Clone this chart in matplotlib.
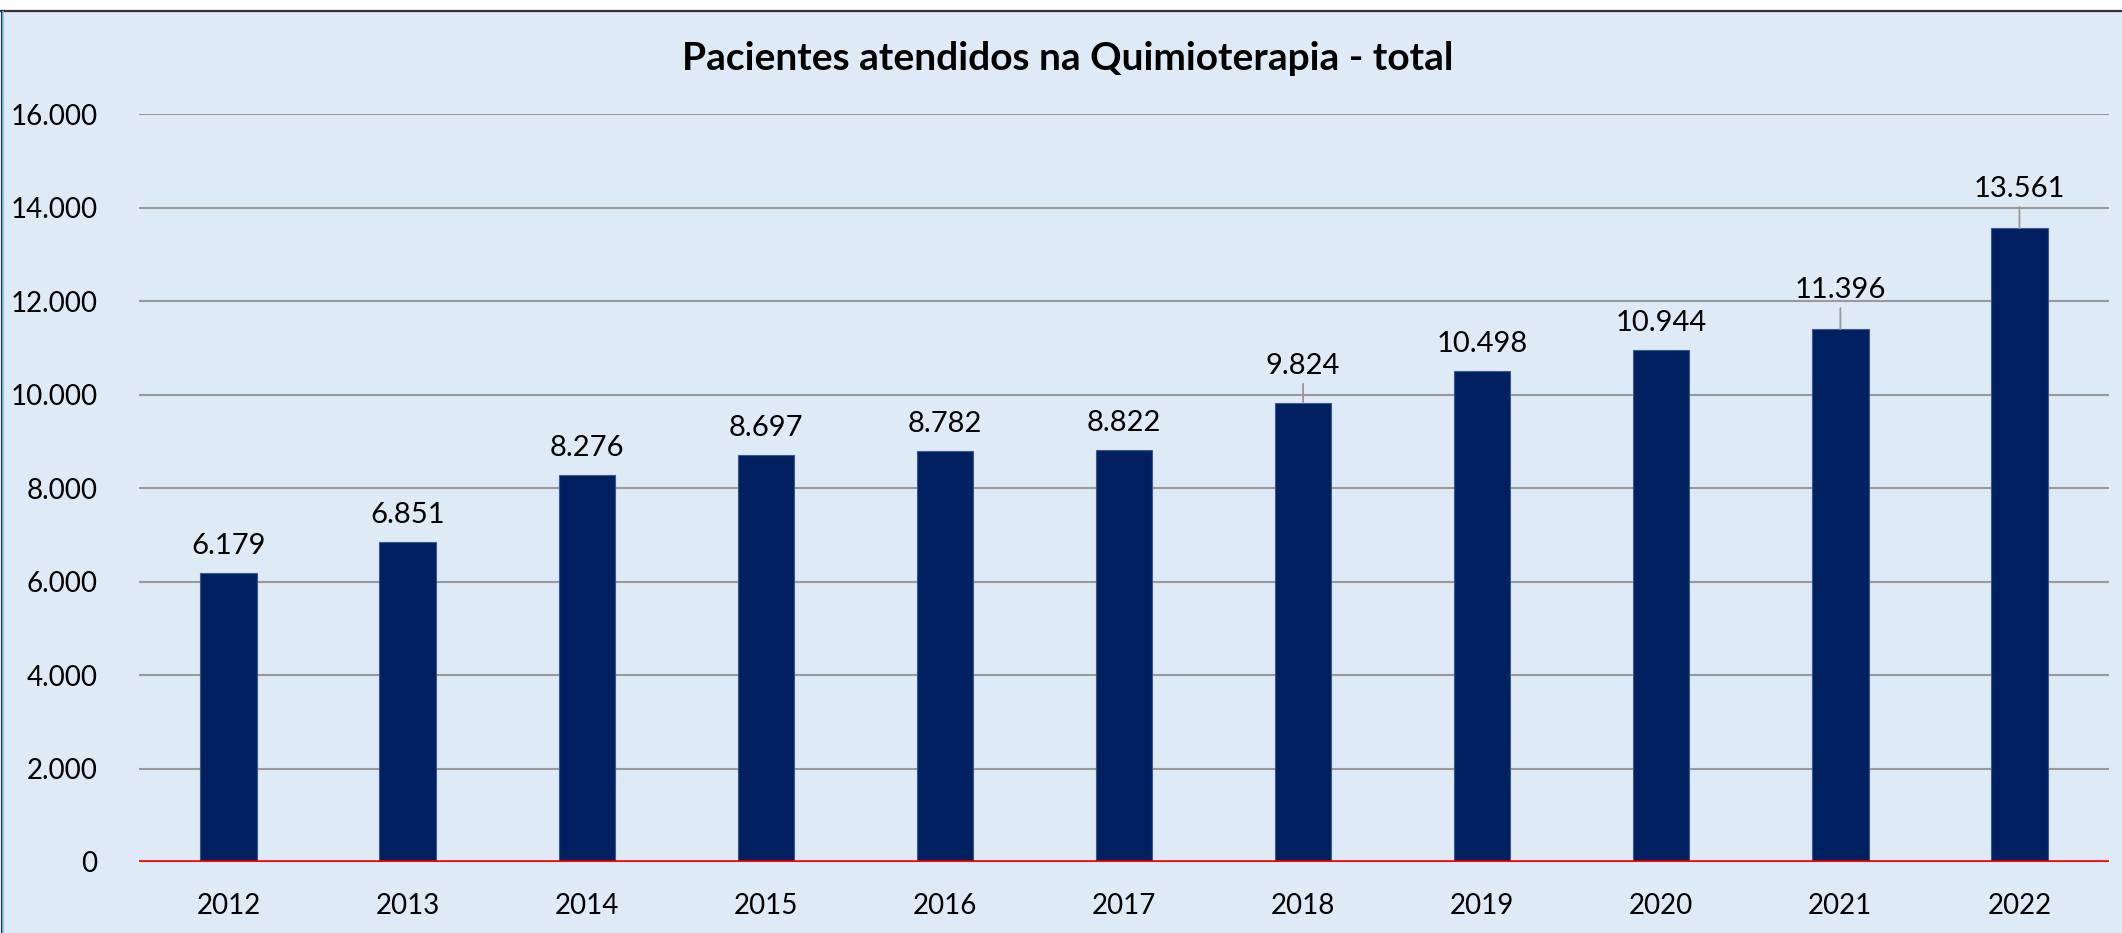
import numpy as np
import matplotlib.pyplot as plt
from matplotlib.patches import Rectangle

years = ['2012', '2013', '2014', '2015', '2016', '2017', '2018', '2019', '2020', '2021', '2022']
patients = [6179, 6851, 8276, 8697, 8782, 8822, 9824, 10498, 10944, 11396, 13561]
# labels that Excel pushed up and joined with a leader line (extra offset in px)
leader_extra = {'2018': 10, '2021': 12, '2022': 12}


def fmt(v):
    return f'{v:,}'.replace(',', '.')


def main():
    W, H = 2122, 933
    bg = '#DEEAF6'
    navy = '#002060'
    plt.rcParams['font.family'] = ['Lato', 'DejaVu Sans']

    fig = plt.figure(figsize=(W / 100, H / 100), dpi=100)
    fig.patch.set_facecolor('white')
    # chart area with its border (only top/left visible in the crop)
    fig.patches.append(Rectangle((3 / W, 0), 1, 1 - 11 / H, transform=fig.transFigure,
                                 facecolor=bg, edgecolor='none', zorder=-5))
    fig.add_artist(plt.Line2D([0, 1], [1 - 10.5 / H] * 2, transform=fig.transFigure,
                              color='#333333', lw=1.6))
    fig.add_artist(plt.Line2D([1.5 / W] * 2, [0, 1 - 10.5 / H], transform=fig.transFigure,
                              color='#1F3864', lw=1.6))
    fig.add_artist(plt.Line2D([3.2 / W] * 2, [0, 1 - 12 / H], transform=fig.transFigure,
                              color='#7FC4E6', lw=1.2))

    ax = fig.add_axes([139 / W, (H - 862) / H, 1970 / W, 748 / H])
    ax.set_facecolor('none')
    ax.set_zorder(2)
    x = np.arange(len(years))
    ax.bar(x, patients, width=0.315, color=navy, edgecolor='#3A5A8C', linewidth=0.8, zorder=3)

    ax.set_xlim(-0.5, len(years) - 0.5)
    ax.set_ylim(0, 16000)
    ax.set_yticks(np.arange(0, 16001, 2000))
    ax.set_yticklabels([fmt(v) for v in range(0, 16001, 2000)])
    ax.set_xticks(x)
    ax.set_xticklabels(years)
    ax.tick_params(axis='both', length=0, labelsize=20, colors='black')
    ax.tick_params(axis='y', pad=30)
    ax.tick_params(axis='x', pad=22)
    ax.grid(axis='y', color='#999999', lw=1.5, zorder=1)
    for s in ax.spines.values():
        s.set_visible(False)
    ax.axhline(0, color='#FF0000', lw=2.6, zorder=4)

    for xi, yr, v in zip(x, years, patients):
        extra = leader_extra.get(yr, 0)
        off = 19 + extra
        ax.annotate(fmt(v), (xi, v), xytext=(0, off), textcoords='offset pixels',
                    ha='center', va='baseline', fontsize=21, clip_on=False)
        if extra:
            ax.annotate('', (xi, v), xytext=(0, off - 10), textcoords='offset pixels',
                        arrowprops=dict(arrowstyle='-', color='#999999', lw=1.3,
                                        shrinkA=0, shrinkB=0))

    fig.text(1068 / W, 1 - 58 / H, 'Pacientes atendidos na Quimioterapia - total',
             ha='center', va='center', fontsize=28, fontweight='bold', zorder=3)

    fig.savefig('out.png', dpi=100, facecolor=fig.get_facecolor())


if __name__ == '__main__':
    main()
